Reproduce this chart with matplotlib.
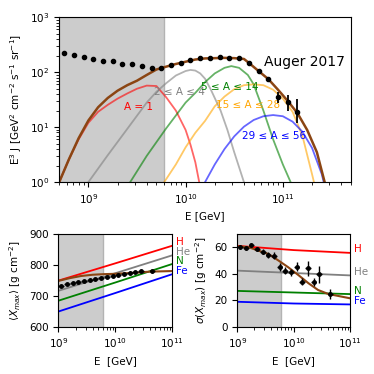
import matplotlib
matplotlib.use('Agg')
import matplotlib.pyplot as plt
import numpy as np

# ---- top panel: Auger 2017 spectrum (E^3 J) ----
logE_data = np.array([8.75, 8.85, 8.95, 9.05, 9.15, 9.25, 9.35, 9.45, 9.55, 9.65,
                      9.75, 9.85, 9.95, 10.05, 10.15, 10.25, 10.35, 10.45, 10.55,
                      10.65, 10.75, 10.85, 10.95, 11.05, 11.15])
flux_data = np.array([221, 206, 192, 172, 160, 160, 139, 139, 130, 121,
                      121, 135, 149, 167, 179, 179, 187, 179, 179,
                      149, 105, 75, 36, 29, 19])
flux_err_lo = np.array([0]*20 + [4, 5, 9, 9, 7])
flux_err_hi = np.array([0]*20 + [4, 5, 8, 9, 13])

logE_tot = [8.70, 8.8, 8.9, 9.0, 9.1, 9.2, 9.3, 9.4, 9.5, 9.6, 9.7, 9.8, 9.9, 10.0,
            10.1, 10.2, 10.3, 10.4, 10.5, 10.6, 10.65, 10.75, 10.85, 10.95, 11.05,
            11.15, 11.25, 11.35, 11.43]
flux_tot = [1.0, 2.6, 6.3, 13.2, 23, 34, 46, 58, 70, 89, 112, 126, 141, 155,
            170, 178, 180, 182, 180, 174, 148, 105, 75, 48, 30,
            18, 8.9, 3.5, 1.0]

logE_p = [8.70, 8.8, 8.9, 9.0, 9.1, 9.2, 9.3, 9.4, 9.5, 9.6, 9.7, 9.8, 9.9, 10.0,
          10.05, 10.1, 10.14]
flux_p = [1.0, 2.6, 6.0, 12.0, 19, 25.5, 33, 41, 50, 57, 56, 35, 20, 8.9, 4.8, 2.3, 1.0]

logE_he = [9.0, 9.2, 9.4, 9.6, 9.7, 9.8, 9.9, 10.0, 10.05, 10.1, 10.15, 10.2, 10.26,
           10.36, 10.43, 10.5, 10.6]
flux_he = [1.0, 3.1, 9.3, 28, 44, 63, 87, 105, 110, 107, 95, 76, 48, 20, 8.9, 3.5, 1.0]

logE_cno = [9.43, 9.6, 9.8, 10.0, 10.1, 10.2, 10.3, 10.4, 10.47, 10.55, 10.64, 10.7,
            10.8, 10.9, 11.0, 11.08]
flux_cno = [1.0, 3.0, 9.5, 28, 42, 66, 95, 120, 129, 120, 89, 60, 20, 6.0, 2.1, 1.0]

logE_si = [9.78, 9.9, 10.0, 10.1, 10.2, 10.3, 10.4, 10.5, 10.6, 10.7, 10.8, 10.9,
           11.0, 11.1, 11.2, 11.3, 11.32]
flux_si = [1.0, 2.1, 4.3, 7.9, 13, 24, 36, 49, 58, 60, 58, 48, 33, 19, 7.1, 1.4, 1.0]

logE_fe = [10.2, 10.3, 10.4, 10.5, 10.6, 10.7, 10.8, 10.9, 11.0, 11.1, 11.2, 11.3,
           11.4, 11.42]
flux_fe = [1.0, 2.1, 4.0, 6.8, 10.2, 13.5, 15.8, 16.6, 15.8, 12.6, 8.3, 4.2, 1.4, 1.0]

# ---- bottom panels: Xmax moments ----
logE_x = np.array([9.05, 9.15, 9.25, 9.35, 9.45, 9.55, 9.65, 9.75, 9.85, 9.95,
                   10.05, 10.15, 10.25, 10.35, 10.45, 10.65])
xmax_data = [732, 738, 742, 745, 748, 751, 753, 757, 762, 764, 768, 771, 775, 777, 780, 779]
xmax_err = [3, 3, 3, 3, 3, 3, 3, 3, 3, 3, 3, 4, 4, 4, 5, 5]
sig_data = [60, 59.2, 61.7, 58.7, 56.6, 54.2, 53.6, 44.9, 42.3, 41.1,
            45.3, 34, 44.1, 33.5, 39.6, 24.7]
sig_err = [1.5, 1.5, 1.5, 1.5, 2, 2, 2.5, 3, 2.5, 2.5, 3.4, 2.5, 5.7, 3, 6.3, 3.5]

logE_lines = [9.0, 10.0, 11.0]
xmax_H = [749, 805, 862]
xmax_He = [716, 773, 831]
xmax_N = [684, 743, 803]
xmax_Fe = [649, 709, 770]
sig_H = [61, 57.8, 55.7]
sig_He = [42.3, 40.5, 38.7]
sig_N = [27, 25.8, 24.6]
sig_Fe = [18.8, 17.5, 16.8]

logE_mod = [9.0, 9.2, 9.4, 9.6, 9.8, 10.0, 10.3, 10.6, 11.0]
xmax_mod = [748, 757, 764, 768, 770, 771, 774, 778, 780]
logE_smod = [9.0, 9.2, 9.4, 9.55, 9.73, 9.9, 10.08, 10.26, 10.43, 10.61, 11.0]
sig_mod = [60.5, 60, 57, 54.9, 49.9, 44.9, 39, 32.8, 27.7, 24.7, 21.4]

comp_names = ['H', 'He', 'N', 'Fe']
comp_colors = ['red', 'grey', 'green', 'blue']

brown = '#8B4513'
fs = 7.5

fig = plt.figure(figsize=(3.74, 3.74), dpi=100)
ax = fig.add_axes([0.158, 0.513, 0.780, 0.441])
ax.axvspan(5e8, 6e9, facecolor='0.8', edgecolor='0.7', zorder=0)

E = lambda a: 10**np.asarray(a)
ax.plot(E(logE_p), flux_p, color='red', alpha=0.6, lw=1.3)
ax.plot(E(logE_he), flux_he, color='grey', alpha=0.6, lw=1.3)
ax.plot(E(logE_cno), flux_cno, color='green', alpha=0.6, lw=1.3)
ax.plot(E(logE_si), flux_si, color='orange', alpha=0.6, lw=1.3)
ax.plot(E(logE_fe), flux_fe, color='blue', alpha=0.6, lw=1.3)
ax.plot(E(logE_tot), flux_tot, color=brown, lw=1.8)
ax.errorbar(E(logE_data), flux_data, yerr=[flux_err_lo, flux_err_hi], fmt='o',
            color='k', ms=3, elinewidth=1.3, capsize=0, zorder=5)

ax.text(10**9.52, 23, 'A = 1', color='red', fontsize=fs, ha='center', va='center')
ax.text(10**9.94, 44, '2 ≤ A ≤ 4', color='grey', fontsize=fs, ha='center', va='center')
ax.text(10**10.45, 54, '5 ≤ A ≤ 14', color='green', fontsize=fs, ha='center', va='center')
ax.text(10**10.64, 25, '15 ≤ A ≤ 28', color='orange', fontsize=fs, ha='center', va='center')
ax.text(10**10.91, 6.9, '29 ≤ A ≤ 56', color='blue', fontsize=fs, ha='center', va='center')
ax.text(10**11.22, 152, 'Auger 2017', color='k', fontsize=10, ha='center', va='center')

ax.set_xscale('log')
ax.set_yscale('log')
ax.set_xlim(5e8, 5e11)
ax.set_ylim(1, 1e3)
ax.set_xlabel('E [GeV]', fontsize=fs)
ax.set_ylabel(r'E$^3$ J [GeV$^2$ cm$^{-2}$ s$^{-1}$ sr$^{-1}$]', fontsize=fs)
ax.tick_params(labelsize=fs)

# bottom left: <Xmax>
ax1 = fig.add_axes([0.156, 0.1265, 0.305, 0.248])
ax1.axvspan(1e9, 6e9, facecolor='0.8', edgecolor='0.7', zorder=0)
for ys, c in zip([xmax_H, xmax_He, xmax_N, xmax_Fe], comp_colors):
    ax1.plot(E(logE_lines), ys, color=c, lw=1.3)
ax1.plot(E(logE_mod), xmax_mod, color=brown, lw=1.5)
ax1.errorbar(E(logE_x), xmax_data, yerr=xmax_err, xerr=[E(logE_x) - E(logE_x - 0.05), E(logE_x + 0.05) - E(logE_x)],
             fmt='o', color='k', ms=2.5, elinewidth=1, capsize=0, zorder=5)
ax1.set_xscale('log')
ax1.set_xlim(1e9, 1e11)
ax1.set_ylim(600, 900)
ax1.set_xlabel('E  [GeV]', fontsize=fs)
ax1.set_ylabel(r'$\langle X_{max}\rangle$ [g cm$^{-2}$]', fontsize=fs)
ax1.tick_params(labelsize=fs)
for name, c, yf in zip(comp_names, comp_colors, [0.915, 0.807, 0.71, 0.602]):
    ax1.text(1.03, yf, name, color=c, fontsize=fs, transform=ax1.transAxes, va='center')

# bottom right: sigma(Xmax)
ax2 = fig.add_axes([0.6345, 0.1265, 0.302, 0.248])
ax2.axvspan(1e9, 6e9, facecolor='0.8', edgecolor='0.7', zorder=0)
for ys, c in zip([sig_H, sig_He, sig_N, sig_Fe], comp_colors):
    ax2.plot(E(logE_lines), ys, color=c, lw=1.3)
ax2.plot(E(logE_smod), sig_mod, color=brown, lw=1.5)
ax2.errorbar(E(logE_x), sig_data, yerr=sig_err, xerr=[E(logE_x) - E(logE_x - 0.05), E(logE_x + 0.05) - E(logE_x)],
             fmt='o', color='k', ms=2.5, elinewidth=1, capsize=0, zorder=5)
ax2.set_xscale('log')
ax2.set_xlim(1e9, 1e11)
ax2.set_ylim(0, 70)
ax2.set_xlabel('E  [GeV]', fontsize=fs)
ax2.set_ylabel(r'$\sigma(X_{max})$ [g cm$^{-2}$]', fontsize=fs)
ax2.tick_params(labelsize=fs)
for name, c, yf in zip(comp_names, comp_colors, [0.834, 0.586, 0.387, 0.278]):
    ax2.text(1.03, yf, name, color=c, fontsize=fs, transform=ax2.transAxes, va='center')

fig.savefig('out.png', dpi=100)
